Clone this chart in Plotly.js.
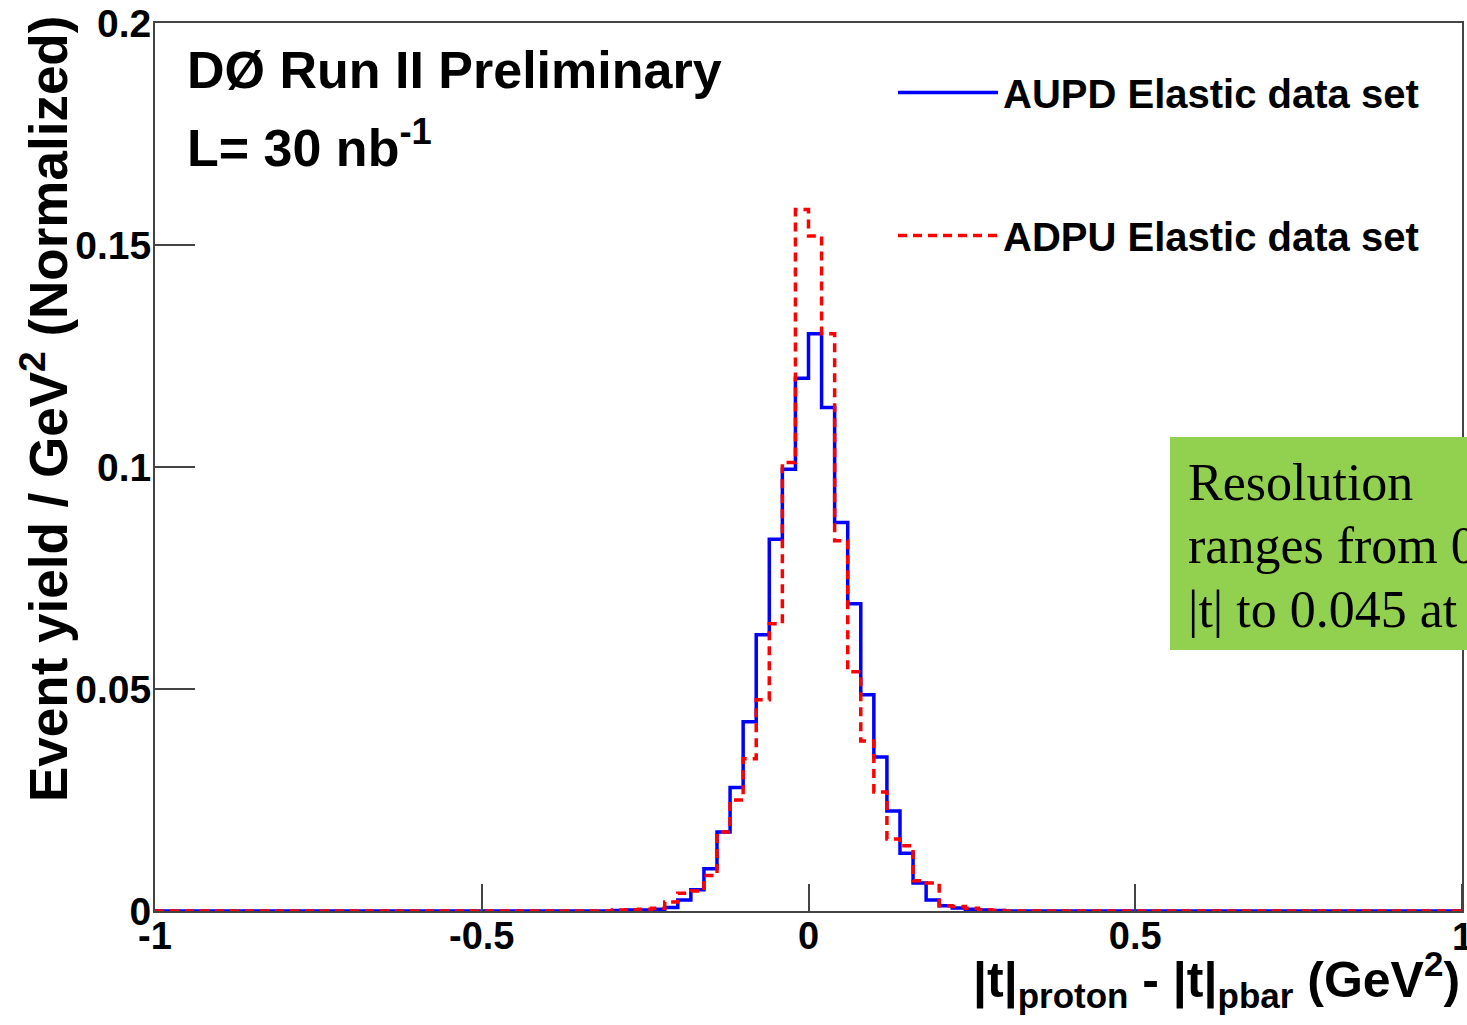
<!DOCTYPE html>
<html>
<head>
<meta charset="utf-8">
<script src="https://cdn.plot.ly/plotly-3.0.1.min.js"></script>
<style>html,body{margin:0;padding:0;background:#fff;}#chart{width:1467px;height:1025px;}</style>
</head>
<body>
<div id="chart"></div>
<script>
// Histogram binning: 100 bins of width 0.02 GeV^2 from -1 to 1
const binStart = -1;
const binWidth = 0.02;

// AUPD Elastic data set (normalized yield per bin)
const aupdValues = [
  0,0,0,0,0,0,0,0,0,0, 0,0,0,0,0,0,0,0,0,0, 0,0,0,0,0,0,0,0,0,0, 0,0,0,0,0,
  0.0001,0.0002,0.0002,0.0004,0.0008,0.0025,0.0048,0.0095,0.0178,0.0278,
  0.0426,0.0622,0.0837,0.0995,0.120,0.130,0.1134,0.0875,0.0692,0.0487,
  0.0347,0.0225,0.013,0.0063,0.0025,0.0012,0.0007,0.0004,0.0002,0.0001,
  0,0,0,0,0,0,0,0,0,0, 0,0,0,0,0,0,0,0,0,0, 0,0,0,0,0,0,0,0,0,0, 0,0,0,0,0
];

// ADPU Elastic data set (normalized yield per bin)
const adpuValues = [
  0,0,0,0,0,0,0,0,0,0, 0,0,0,0,0,0,0,0,0,0, 0,0,0,0,0,0,0,0,0,0, 0,0,0,0,0,
  0.0002,0.0003,0.0004,0.0006,0.002,0.004,0.0045,0.008,0.0178,0.025,
  0.0343,0.0476,0.0647,0.101,0.158,0.152,0.130,0.0834,0.0539,0.0383,
  0.0268,0.0162,0.0147,0.0068,0.0063,0.0012,0.001,0.0006,0.0003,0.0001,
  0,0,0,0,0,0,0,0,0,0, 0,0,0,0,0,0,0,0,0,0, 0,0,0,0,0,0,0,0,0,0, 0,0,0,0,0
];

const seriesNames = ["AUPD Elastic data set", "ADPU Elastic data set"];
const xTickVals = [-1, -0.5, 0, 0.5];
const xTickText = ["-1", "-0.5", "0", "0.5"];
const xEdgeTick = {value: 1, label: "1"};
const yTickVals = [0, 0.05, 0.1, 0.15, 0.2];
const yTickText = ["0", "0.05", "0.1", "0.15", "0.2"];

// step-histogram coordinates: left edges + final right edge
function stepXY(vals) {
  const xs = [], ys = [];
  for (let i = 0; i < vals.length; i++) {
    xs.push(+(binStart + i * binWidth).toFixed(4));
    ys.push(vals[i]);
  }
  xs.push(+(binStart + vals.length * binWidth).toFixed(4));
  ys.push(vals[vals.length - 1]);
  return {x: xs, y: ys};
}

const a = stepXY(aupdValues);
const d = stepXY(adpuValues);

const FONT = "Liberation Sans, Arial, Helvetica, sans-serif";
const SERIF = "Liberation Serif, Times New Roman, serif";

const traces = [
  {x: a.x, y: a.y, type: "scatter", mode: "lines", name: seriesNames[0],
   line: {shape: "hv", color: "#0000ff", width: 3.5}, legendgroup: "g1"},
  {x: d.x, y: d.y, type: "scatter", mode: "lines", name: seriesNames[1],
   line: {shape: "hv", color: "#ff0000", width: 3.5, dash: "9px,6px"}, legendgroup: "g2"}
];

const W = 1307, H = 888; // plot area size in px
function px(x) { return (x - 155) / W; }
function py(y) { return (911 - y) / H; }

const layout = {
  width: 1467, height: 1025,
  margin: {l: 155, r: 5, t: 23, b: 114},
  paper_bgcolor: "#ffffff", plot_bgcolor: "#ffffff",
  font: {family: FONT, color: "#000"},
  showlegend: true,
  legend: {
    x: px(893), y: py(60), xanchor: "left", yanchor: "top",
    font: {family: FONT, size: 40, weight: "bold", color: "#000"},
    bgcolor: "rgba(0,0,0,0)", borderwidth: 0,
    traceorder: "grouped", tracegroupgap: 88, itemwidth: 100
  },
  xaxis: {
    range: [-1, 1], showgrid: false, zeroline: false,
    showline: true, linecolor: "#444", linewidth: 2, mirror: true,
    ticks: "inside", ticklen: 27, tickwidth: 2, tickcolor: "#444",
    tickvals: xTickVals, ticktext: xTickText, ticklabelstandoff: -10,
    tickfont: {family: FONT, size: 38, weight: "bold", color: "#000"}
  },
  yaxis: {
    range: [0, 0.2], showgrid: false, zeroline: false,
    showline: true, linecolor: "#444", linewidth: 2, mirror: true,
    ticks: "inside", ticklen: 40, tickwidth: 2, tickcolor: "#444",
    tickvals: yTickVals, ticktext: yTickText, ticklabelstandoff: -6,
    tickfont: {family: FONT, size: 39, weight: "bold", color: "#000"}
  },
  shapes: [
    {type: "line", xref: "x", yref: "paper", x0: xEdgeTick.value, x1: xEdgeTick.value,
     y0: 0, y1: 27 / H, line: {color: "#444", width: 2}},
    {type: "rect", xref: "paper", yref: "paper", layer: "above",
     x0: px(1170), x1: px(1500), y0: py(650), y1: py(437),
     fillcolor: "#92d050", line: {width: 0}}
  ],
  annotations: [
    {text: xEdgeTick.label, xref: "x", yref: "paper",
     x: xEdgeTick.value, y: py(937), xanchor: "center", yanchor: "middle", showarrow: false,
     font: {family: FONT, size: 38, weight: "bold", color: "#000"}},
    {text: "DØ Run II Preliminary", xref: "paper", yref: "paper",
     x: px(185), y: py(70), xanchor: "left", yanchor: "middle", showarrow: false,
     font: {family: FONT, size: 52, weight: "bold", color: "#000"}},
    {text: "L= 30 nb<sup>-1</sup>", xref: "paper", yref: "paper",
     x: px(185), y: py(144), xanchor: "left", yanchor: "middle", showarrow: false,
     font: {family: FONT, size: 52, weight: "bold", color: "#000"}},
    {text: "Event yield / GeV<sup>2</sup> (Normalized)", xref: "paper", yref: "paper",
     x: px(44), y: py(14), xanchor: "center", yanchor: "top", textangle: -90, showarrow: false,
     font: {family: FONT, size: 53, weight: "bold", color: "#000"}},
    {text: "|t|<sub>proton</sub> - |t|<sub>pbar</sub> (GeV<sup>2</sup>)", xref: "paper", yref: "paper",
     x: px(1462), y: py(942), xanchor: "right", yanchor: "top", showarrow: false,
     font: {family: FONT, size: 50, weight: "bold", color: "#000"}},
    {text: "Resolution", xref: "paper", yref: "paper",
     x: px(1186), y: py(482), xanchor: "left", yanchor: "middle", showarrow: false,
     font: {family: SERIF, size: 52, color: "#000"}},
    {text: "ranges from 0", xref: "paper", yref: "paper",
     x: px(1186), y: py(546), xanchor: "left", yanchor: "middle", showarrow: false,
     font: {family: SERIF, size: 52, color: "#000"}},
    {text: "|t| to 0.045 at", xref: "paper", yref: "paper",
     x: px(1186), y: py(609), xanchor: "left", yanchor: "middle", showarrow: false,
     font: {family: SERIF, size: 52, color: "#000"}}
  ]
};

Plotly.newPlot("chart", traces, layout, {displayModeBar: false, staticPlot: true});
</script>
</body>
</html>
